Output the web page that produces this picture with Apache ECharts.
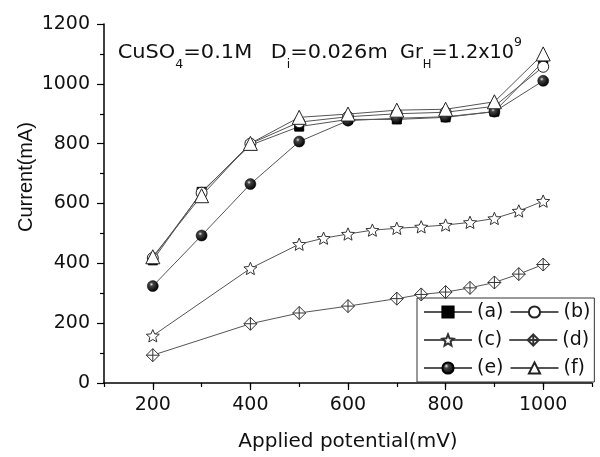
<!DOCTYPE html>
<html>
<head>
<meta charset="utf-8">
<script src="https://cdn.jsdelivr.net/npm/echarts@6/dist/echarts.min.js"></script>
<style>html,body{margin:0;padding:0;background:#fff}#c{width:600px;height:457px}</style>
</head>
<body>
<div id="c"></div>
<script>
// ---- data ----
const potentialsMain = [200, 300, 400, 500, 600, 700, 800, 900, 1000];
const seriesA = [410, 639, 795, 857, 881, 881, 888, 907, 1074];
const seriesB = [418, 636, 800, 872, 890, 900, 905, 925, 1057];
const seriesE = [324, 493, 665, 807, 877, 885, 890, 907, 1010];
const seriesF = [422, 626, 801, 888, 899, 912, 915, 940, 1100];
const potentialsC = [200, 400, 500, 550, 600, 650, 700, 750, 800, 850, 900, 950, 1000];
const seriesC = [158, 383, 464, 484, 498, 511, 517, 522, 528, 537, 550, 575, 608];
const potentialsD = [200, 400, 500, 600, 700, 750, 800, 850, 900, 950, 1000];
const seriesD = [93, 198, 234, 257, 282, 296, 304, 318, 336, 364, 396];
const seriesNames = ['(a)', '(b)', '(c)', '(d)', '(e)', '(f)'];
const xMajorTicks = [200, 400, 600, 800, 1000];

const zip = (xs, ys) => xs.map((x, i) => [x, ys[i]]);

const STAR = 'path://M0,-100 L26.5,-36.4 L95.1,-30.9 L42.8,13.9 L58.8,80.9 L0,45 L-58.8,80.9 L-42.8,13.9 L-95.1,-30.9 L-26.5,-36.4 Z';
const DIAMOND_CROSS = 'path://M0,-10 L10,0 L0,10 L-10,0 Z M0,-10 L0,10 M-10,0 L10,0';
const HFONT = '"DejaVu Sans", sans-serif';
const lineStyle = { color: '#555', width: 1 };

function mk(name, data, symbol, size, itemStyle) {
  return {
    name, type: 'line', data, symbol, symbolSize: size, symbolKeepAspect: true,
    lineStyle, itemStyle, emphasis: { disabled: true }, animation: false
  };
}

const sphere = {
  type: 'radial', x: 0.38, y: 0.35, r: 0.65,
  colorStops: [{ offset: 0, color: '#e8e8e8' }, { offset: 0.25, color: '#444' }, { offset: 1, color: '#000' }]
};

// annotation text layout (measured with canvas)
const ctx = document.createElement('canvas').getContext('2d');
function w(t, s) { ctx.font = s + 'px "DejaVu Sans"'; return ctx.measureText(t).width; }
const SIZES = { m: 20, sub: 12, sup: 13 };
const MIDS = { m: 52.7, sub: 64.6, sup: 42.4 };
const groups = [
  { x: 117.7, target: 134.5, segs: [['CuSO', 'm'], ['4', 'sub'], ['=0.1M', 'm']] },
  { x: 270.7, target: 117, segs: [['D', 'm'], ['i', 'sub'], ['=0.026m', 'm']] },
  { x: 400, target: 122, segs: [['Gr', 'm'], ['H', 'sub'], ['=1.2x10', 'm'], ['9', 'sup']] }
];
const graphics = [];
groups.forEach(g => {
  const widths = g.segs.map(s => w(s[0], SIZES[s[1]]));
  const total = widths.reduce((a, b) => a + b, 0);
  const sc = g.target / total;
  let cx = g.x;
  g.segs.forEach((s, i) => {
    graphics.push({
      type: 'text', x: cx, y: MIDS[s[1]], scaleX: sc, silent: true,
      style: { text: s[0], fontSize: SIZES[s[1]], fontFamily: HFONT, fill: '#111', align: 'left', verticalAlign: 'middle' }
    });
    cx += widths[i] * sc;
  });
});
graphics.push({
  type: 'text', x: 26, y: 177, rotation: Math.PI / 2, silent: true,
  style: { text: 'Current(mA)', fontSize: 20, fontFamily: '"Liberation Sans", Arial, sans-serif', fill: '#111', align: 'center', verticalAlign: 'middle' }
});

const plain = v => String(v);

const chart = echarts.init(document.getElementById('c'), null, { renderer: 'canvas' });
chart.setOption({
  animation: false,
  backgroundColor: '#fff',
  grid: { left: 104, right: 8, top: 24, bottom: 74, containLabel: false },
  xAxis: [{
    type: 'value', min: 100, max: 1100, interval: 100,
    name: 'Applied potential(mV)', nameLocation: 'middle', nameGap: 49,
    nameTextStyle: { fontSize: 20, fontFamily: HFONT, color: '#111' },
    axisLine: { lineStyle: { color: '#000', width: 1.5 } },
    axisTick: { length: 4, lineStyle: { color: '#000', width: 1.2 } },
    axisLabel: { customValues: xMajorTicks, formatter: plain, fontSize: 19, fontFamily: HFONT, color: '#111', margin: 13 },
    splitLine: { show: false }
  }, {
    type: 'value', min: 100, max: 1100, interval: 100, position: 'bottom',
    axisLine: { show: false },
    axisTick: { customValues: xMajorTicks, length: 7, lineStyle: { color: '#000', width: 1.2 } },
    axisLabel: { show: false },
    splitLine: { show: false }
  }],
  yAxis: {
    type: 'value', min: 0, max: 1200, interval: 200,
    axisLine: { show: true, lineStyle: { color: '#000', width: 1.5 } },
    axisTick: { show: true, length: 7, lineStyle: { color: '#000', width: 1.2 } },
    minorTick: { show: true, splitNumber: 2, length: 4, lineStyle: { color: '#000', width: 1.2 } },
    axisLabel: { formatter: plain, fontSize: 19, fontFamily: HFONT, color: '#111', margin: 14 },
    splitLine: { show: false }
  },
  legend: {
    left: 417, top: 298, width: 172, orient: 'horizontal',
    itemWidth: 48, itemHeight: 14, itemGap: 6,
    padding: [3, 4, 3, 6],
    borderColor: '#333', borderWidth: 1,
    textStyle: { fontSize: 19, fontFamily: HFONT, color: '#111', lineHeight: 22 },
    data: seriesNames
  },
  series: [
    mk(seriesNames[0], zip(potentialsMain, seriesA), 'rect', 9, { color: '#000', borderColor: '#000', borderWidth: 1 }),
    mk(seriesNames[1], zip(potentialsMain, seriesB), 'circle', 11, { color: '#fff', borderColor: '#222', borderWidth: 1 }),
    mk(seriesNames[2], zip(potentialsC, seriesC), STAR, 13, { color: '#fff', borderColor: '#333', borderWidth: 1 }),
    mk(seriesNames[3], zip(potentialsD, seriesD), DIAMOND_CROSS, 13, { color: '#fff', borderColor: '#333', borderWidth: 1 }),
    mk(seriesNames[4], zip(potentialsMain, seriesE), 'circle', 11, { color: sphere, borderColor: '#000', borderWidth: 0.5 }),
    mk(seriesNames[5], zip(potentialsMain, seriesF), 'triangle', 14, { color: '#fff', borderColor: '#222', borderWidth: 1 })
  ],
  graphic: graphics
});
</script>
</body>
</html>
